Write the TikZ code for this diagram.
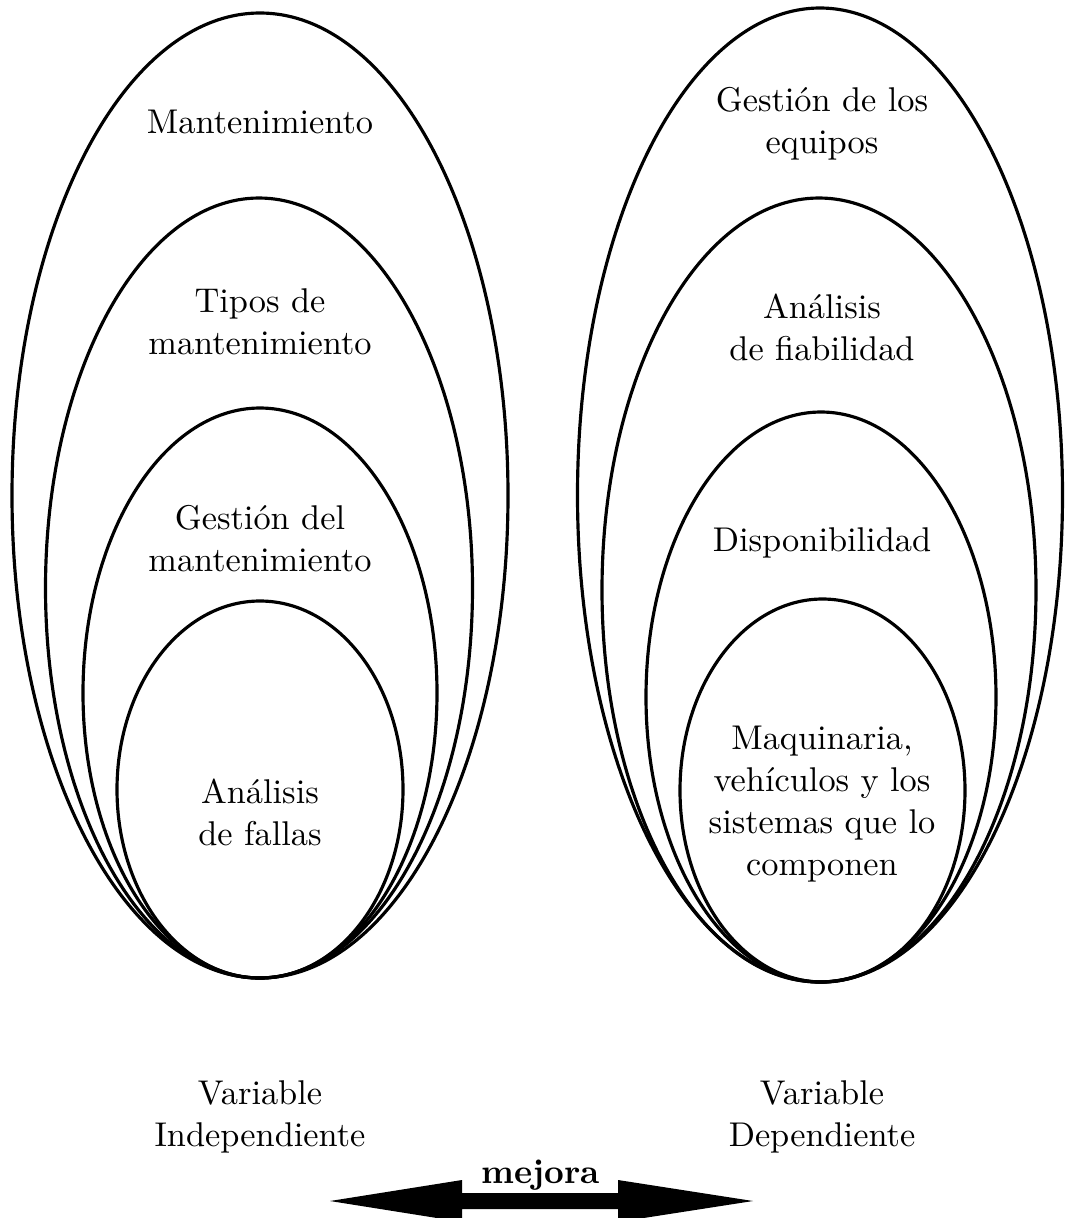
\documentclass[tikz,border=0pt]{standalone}
\usepackage{fontspec}
\usetikzlibrary{shapes.geometric}
\begin{document}
\begin{tikzpicture}[x=0.3pt,y=-0.3pt,
  ring/.style={draw=black,line width=0.95pt,ellipse,inner sep=0pt},
  lbl/.style={align=center,inner sep=0pt,font=\fontsize{10.3}{12.6}\selectfont},
  mlbl/.style={inner sep=0pt,font=\fontsize{10.3}{12.6}\selectfont\bfseries}]
\useasboundingbox (0,0) rectangle (1065,1218);
\clip (0,0) rectangle (1065,1218);
% independent variable: nested ellipses
\node[ring,minimum width=148.8pt,minimum height=289.5pt] (a1) at (260,495.5) {};
\node[ring,minimum width=128.1pt,minimum height=234pt] (a2) at (259,588) {};
\node[ring,minimum width=106.2pt,minimum height=171pt] (a3) at (260,693) {};
\node[ring,minimum width=85.8pt,minimum height=113.1pt] (a4) at (260,789.5) {};
% dependent variable: nested ellipses
\node[ring,minimum width=145.5pt,minimum height=292.2pt] (b1) at (820,495) {};
\node[ring,minimum width=130.2pt,minimum height=235.2pt] (b2) at (819,590) {};
\node[ring,minimum width=105pt,minimum height=171pt] (b3) at (821,697) {};
\node[ring,minimum width=85.5pt,minimum height=114.9pt] (b4) at (822.5,790.5) {};
% labels
\node[lbl] (ta1) at (260,122) {Mantenimiento};
\node[lbl] (ta2) at (260,322) {Tipos de\\mantenimiento};
\node[lbl] (ta3) at (260,539) {Gestión del\\mantenimiento};
\node[lbl] (ta4) at (260,812) {Análisis\\de fallas};
\node[lbl] (tb1) at (822,124) {Gestión de los\\equipos};
\node[lbl] (tb2) at (822,327) {Análisis\\de fiabilidad};
\node[lbl] (tb3) at (822,543) {Disponibilidad};
\node[lbl] (tb4) at (822,804) {Maquinaria,\\vehículos y los\\sistemas que lo\\componen};
\node[lbl] (va) at (260,1117) {Variable\\Independiente};
\node[lbl] (vb) at (822,1117) {Variable\\Dependiente};
\node[mlbl] (mj) at (541,1175) {mejora};
% double-headed improvement arrow
\fill[black] (330,1201) -- (462,1180) -- (462,1193) -- (618,1193) -- (618,1180)
  -- (753,1201) -- (618,1222) -- (618,1209) -- (462,1209) -- (462,1222) -- cycle;
\end{tikzpicture}
\end{document}
